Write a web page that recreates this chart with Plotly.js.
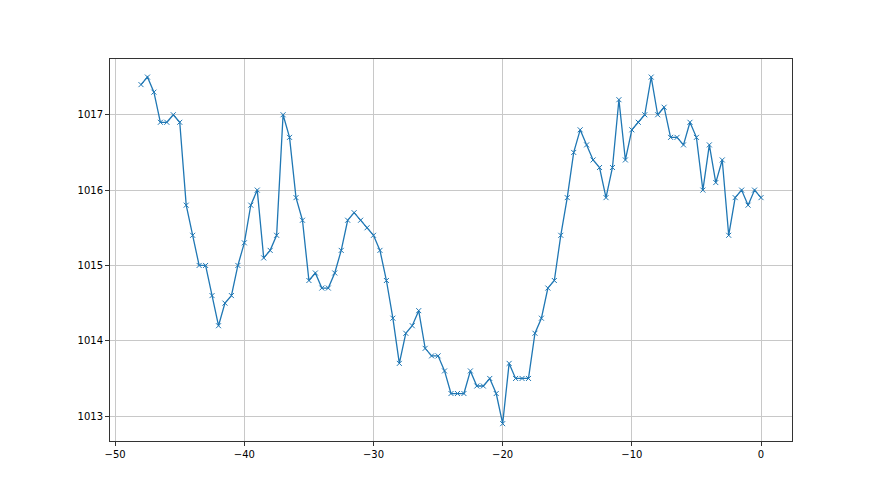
<!DOCTYPE html>
<html>
<head>
<meta charset="utf-8">
<script src="https://cdn.plot.ly/plotly-3.0.1.min.js"></script>
<style>html,body{margin:0;padding:0;background:#fff;}#chart{width:880px;height:495px;}</style>
</head>
<body>
<div id="chart"></div>
<script>
const hours = [];
for (let i = 0; i < 97; i++) hours.push(-48 + i * 0.5);
const pressure = [
  1017.4, 1017.5, 1017.3, 1016.9, 1016.9, 1017.0, 1016.9, 1015.8, 1015.4, 1015.0,
  1015.0, 1014.6, 1014.2, 1014.5, 1014.6, 1015.0, 1015.3, 1015.8, 1016.0, 1015.1,
  1015.2, 1015.4, 1017.0, 1016.7, 1015.9, 1015.6, 1014.8, 1014.9, 1014.7, 1014.7,
  1014.9, 1015.2, 1015.6, 1015.7, 1015.6, 1015.5, 1015.4, 1015.2, 1014.8, 1014.3,
  1013.7, 1014.1, 1014.2, 1014.4, 1013.9, 1013.8, 1013.8, 1013.6, 1013.3, 1013.3,
  1013.3, 1013.6, 1013.4, 1013.4, 1013.5, 1013.3, 1012.9, 1013.7, 1013.5, 1013.5,
  1013.5, 1014.1, 1014.3, 1014.7, 1014.8, 1015.4, 1015.9, 1016.5, 1016.8, 1016.6,
  1016.4, 1016.3, 1015.9, 1016.3, 1017.2, 1016.4, 1016.8, 1016.9, 1017.0, 1017.5,
  1017.0, 1017.1, 1016.7, 1016.7, 1016.6, 1016.9, 1016.7, 1016.0, 1016.6, 1016.1,
  1016.4, 1015.4, 1015.9, 1016.0, 1015.8, 1016.0, 1015.9
];
const xTicks = [-50, -40, -30, -20, -10, 0];
const yTicks = [1013, 1014, 1015, 1016, 1017];

const trace = {
  x: hours, y: pressure, type: 'scatter', mode: 'lines+markers',
  line: {color: '#1f77b4', width: 1.3},
  marker: {symbol: 'x-thin', size: 5, color: '#1f77b4', line: {color: '#1f77b4', width: 1}}
};
const axisCommon = {
  showgrid: true, gridcolor: '#c8c8c8', gridwidth: 1,
  zeroline: false, showline: true, linecolor: '#333', linewidth: 1, mirror: true,
  ticks: 'outside', ticklen: 4, tickcolor: '#333', tickwidth: 1,
  tickfont: {family: 'DejaVu Sans', size: 10, color: '#000'}
};
const layout = {
  width: 880, height: 495,
  margin: {l: 110, r: 88, t: 59, b: 54},
  paper_bgcolor: '#fff', plot_bgcolor: '#fff',
  showlegend: false,
  xaxis: Object.assign({}, axisCommon, {range: [-50.4, 2.4], tickvals: xTicks, ticktext: xTicks.map(v => v < 0 ? '\u2212' + Math.abs(v) : String(v))}),
  yaxis: Object.assign({}, axisCommon, {range: [1012.67, 1017.74], tickvals: yTicks, ticktext: yTicks.map(String)})
};
Plotly.newPlot('chart', [trace], layout, {displayModeBar: false, staticPlot: true});
</script>
</body>
</html>
